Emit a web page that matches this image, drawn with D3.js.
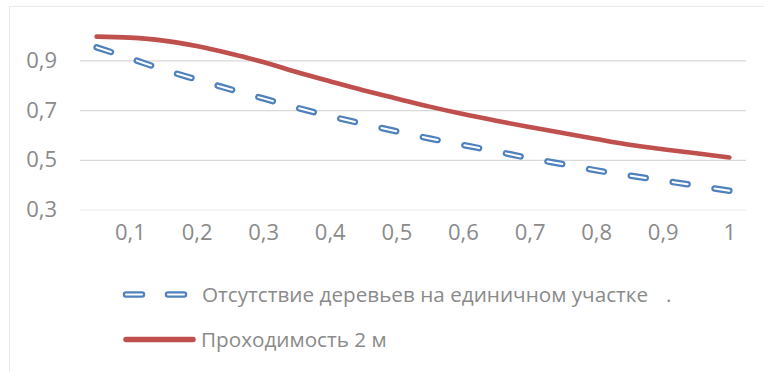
<!DOCTYPE html>
<html>
<head>
<meta charset="utf-8">
<script src="https://cdn.jsdelivr.net/npm/d3@7"></script>
<style>
  html, body { margin: 0; padding: 0; background: #ffffff; }
  svg { display: block; }
  text { font-family: "Open Sans", "Noto Sans", sans-serif; fill: #8a8a8a; }
</style>
</head>
<body>
<svg id="chart" width="764" height="372"></svg>
<script>
// Share of sample plots (x) and the two probability curves
const categories = [0.05, 0.1, 0.15, 0.2, 0.25, 0.3, 0.35, 0.4, 0.45, 0.5,
                    0.55, 0.6, 0.65, 0.7, 0.75, 0.8, 0.85, 0.9, 0.95, 1];
const labelledCategories = [0.1, 0.2, 0.3, 0.4, 0.5, 0.6, 0.7, 0.8, 0.9, 1];
const noTrees = [0.952, 0.908, 0.863, 0.823, 0.784, 0.747, 0.710, 0.676, 0.645, 0.615,
                 0.586, 0.560, 0.534, 0.507, 0.483, 0.458, 0.437, 0.417, 0.397, 0.376];
const passability = [0.995, 0.991, 0.979, 0.957, 0.927, 0.893, 0.853, 0.816, 0.780, 0.747,
                     0.714, 0.684, 0.657, 0.632, 0.608, 0.584, 0.561, 0.543, 0.527, 0.510];
const yTicks = [0.3, 0.5, 0.7, 0.9];
const seriesNames = ["Отсутствие деревьев на единичном участке", "Проходимость 2 м"];

const blue = "#4f81bd", red = "#c0504d";
const svg = d3.select("#chart");

// chart frame
svg.append("rect")
  .attr("x", 9.5).attr("y", 6.5).attr("width", 800).attr("height", 400)
  .attr("fill", "none").attr("stroke", "#ebebeb");

const plot = { left: 80, right: 746, top: 35.4, bottom: 209.7 };

const x = d3.scalePoint().domain(categories).range([plot.left, plot.right]).padding(0.5);
const y = d3.scaleLinear().domain([0.3, 1.0]).range([plot.bottom, plot.top]);
const fmt = v => String(v).replace(".", ",");

// value axis with horizontal gridlines
const yAxis = svg.append("g")
  .attr("transform", `translate(${plot.left},0)`)
  .call(d3.axisLeft(y).tickValues(yTicks).tickFormat(fmt)
        .tickSize(-(plot.right - plot.left)).tickPadding(23));
yAxis.select(".domain").remove();
yAxis.selectAll(".tick line")
  .attr("stroke", d => d === 0.3 ? "#efefef" : "#d9d9d9")
  .attr("stroke-width", 1.3);
yAxis.selectAll(".tick text")
  .attr("font-size", 22).attr("fill", "#8a8a8a")
  .attr("font-family", "'Open Sans', sans-serif");

// category axis
const xAxis = svg.append("g")
  .attr("transform", `translate(0,${plot.bottom})`)
  .call(d3.axisBottom(x).tickValues(labelledCategories).tickFormat(fmt)
        .tickSize(0).tickPadding(15));
xAxis.select(".domain").remove();
xAxis.selectAll(".tick text")
  .attr("font-size", 22).attr("fill", "#8a8a8a")
  .attr("font-family", "'Open Sans', sans-serif");

const line = d3.line()
  .x((d, i) => x(categories[i]))
  .y(d => y(d))
  .curve(d3.curveMonotoneX);

// dashed series: blue dash with a thin white core; the dash period is
// fitted so the pattern starts and ends with a dash
const dashLen = 15, nDashes = 16;
const blueOuter = svg.append("path").datum(noTrees)
  .attr("d", line).attr("fill", "none")
  .attr("stroke", blue).attr("stroke-width", 6.5)
  .attr("stroke-linecap", "round");
const total = blueOuter.node().getTotalLength();
const period = (total - dashLen) / (nDashes - 1);
const dash = `${dashLen},${period - dashLen}`;
blueOuter.attr("stroke-dasharray", dash);
svg.append("path").datum(noTrees)
  .attr("d", line).attr("fill", "none")
  .attr("stroke", "#ffffff").attr("stroke-width", 2)
  .attr("stroke-linecap", "round").attr("stroke-dasharray", dash);

// solid series
svg.append("path").datum(passability)
  .attr("d", line).attr("fill", "none")
  .attr("stroke", red).attr("stroke-width", 4.6)
  .attr("stroke-linecap", "round").attr("stroke-linejoin", "round");

// legend
const legend = svg.append("g");
const l1y = 294.5, l2y = 339.5;
const legendDash = "16,26";
legend.append("line")
  .attr("x1", 126).attr("x2", 186).attr("y1", l1y).attr("y2", l1y)
  .attr("stroke", blue).attr("stroke-width", 6.5)
  .attr("stroke-linecap", "round").attr("stroke-dasharray", legendDash);
legend.append("line")
  .attr("x1", 126).attr("x2", 186).attr("y1", l1y).attr("y2", l1y)
  .attr("stroke", "#ffffff").attr("stroke-width", 2)
  .attr("stroke-linecap", "round").attr("stroke-dasharray", legendDash);
legend.append("text")
  .attr("x", 202).attr("y", l1y).attr("dy", "0.35em")
  .attr("font-size", 20.7).text(seriesNames[0]);
legend.append("text")
  .attr("x", 666).attr("y", l1y).attr("dy", "0.35em")
  .attr("font-size", 20.7).text(".");

legend.append("line")
  .attr("x1", 126).attr("x2", 193).attr("y1", l2y).attr("y2", l2y)
  .attr("stroke", red).attr("stroke-width", 5.5)
  .attr("stroke-linecap", "round");
legend.append("text")
  .attr("x", 201).attr("y", l2y).attr("dy", "0.35em")
  .attr("font-size", 20.7).text(seriesNames[1]);
</script>
</body>
</html>
